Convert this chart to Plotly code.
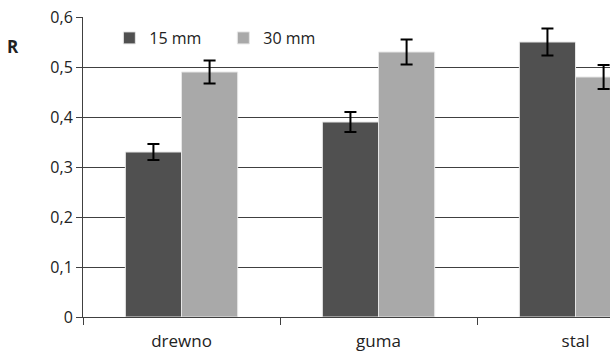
import plotly.graph_objects as go

categories = ["drewno", "guma", "stal"]
series_names = ["15 mm", "30 mm"]
values_15 = [0.33, 0.39, 0.55]
values_30 = [0.49, 0.53, 0.48]
err_15 = [0.016, 0.02, 0.027]
err_30 = [0.023, 0.025, 0.024]
y_tickvals = [0, 0.1, 0.2, 0.3, 0.4, 0.5, 0.6]
y_ticktext = ["0", "0,1", "0,2", "0,3", "0,4", "0,5", "0,6"]

FONT = "Open Sans"
fig = go.Figure()
for name, vals, errs, color in [
    (series_names[0], values_15, err_15, "#505050"),
    (series_names[1], values_30, err_30, "#a9a9a9"),
]:
    fig.add_trace(go.Bar(
        x=categories, y=vals, name=name,
        marker=dict(color=color, line=dict(color="#e6e6e6", width=1)),
        error_y=dict(type="data", array=errs, visible=True,
                     color="black", thickness=2, width=6),
        cliponaxis=False,
    ))

fig.update_layout(
    width=610, height=354,
    margin=dict(l=83, r=0, t=17, b=37, autoexpand=False),
    paper_bgcolor="white", plot_bgcolor="white",
    barmode="group", bargap=0.43, bargroupgap=0,
    font=dict(family=FONT, size=16, color="#222"),
    showlegend=True,
    legend=dict(orientation="h", x=0.05, y=0.93, xanchor="left", yanchor="middle",
                bgcolor="rgba(0,0,0,0)", font=dict(size=16, family=FONT),
                itemwidth=30, entrywidth=69, traceorder="normal"),
    xaxis=dict(range=[-0.5, 2.175], showline=True, linecolor="#404040", linewidth=1,
               ticks="outside", tickson="boundaries", ticklen=7, tickcolor="#404040",
               ticklabelstandoff=9, ticklabeloverflow="allow",
               showgrid=False, automargin=False, tickfont=dict(size=17, family=FONT)),
    yaxis=dict(range=[0, 0.6], tickvals=y_tickvals, ticktext=y_ticktext,
               showline=True, linecolor="#404040", linewidth=1,
               ticks="outside", ticklen=6, tickcolor="#404040",
               ticklabeloverflow="allow",
               showgrid=True, gridcolor="#404040", gridwidth=1, automargin=False,
               zeroline=False, tickfont=dict(size=16, family=FONT)),
    annotations=[dict(text="<b>R</b>", xref="paper", yref="paper",
                      x=-0.133, y=0.9, xanchor="center", yanchor="middle",
                      showarrow=False, font=dict(size=17, family=FONT, color="#222"))],
)

# remove the browser's default 8px body margin so the figure fills the window
fig.write_html("out.html", config={"displayModeBar": False},
               post_script="document.body.style.margin='0';")
